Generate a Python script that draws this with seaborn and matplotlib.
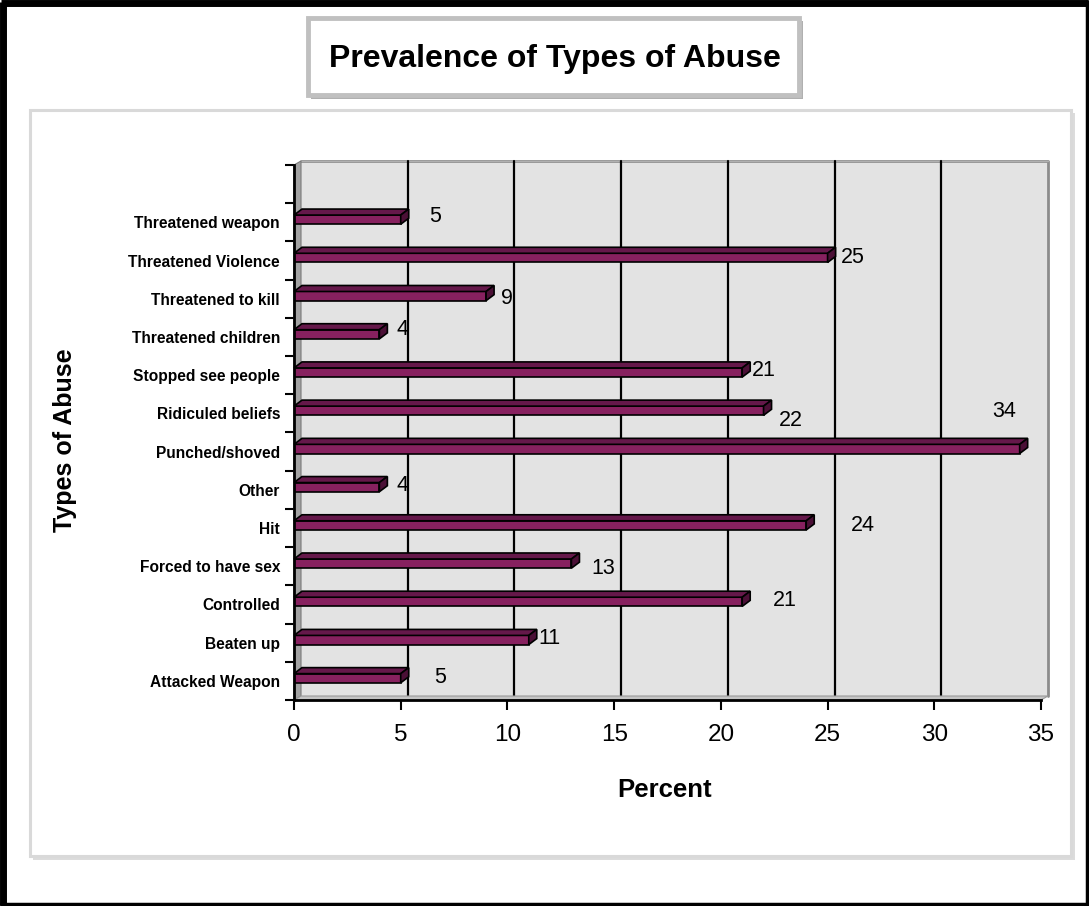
import numpy as np
import pandas as pd
import seaborn as sns
import matplotlib
matplotlib.use("Agg")
import matplotlib.pyplot as plt
from matplotlib.patches import Rectangle, Polygon
from matplotlib.lines import Line2D
from matplotlib.transforms import IdentityTransform

# ---- data (listed top to bottom as drawn) ----
abuse_types = [
    "Threatened weapon", "Threatened Violence", "Threatened to kill",
    "Threatened children", "Stopped see people", "Ridiculed beliefs",
    "Punched/shoved", "Other", "Hit", "Forced to have sex",
    "Controlled", "Beaten up", "Attacked Weapon",
]
percent = [5, 25, 9, 4, 21, 22, 34, 4, 24, 13, 21, 11, 5]
x_ticks = [0, 5, 10, 15, 20, 25, 30, 35]

# value label nudges in pixels (right, down) from each bar end
label_dx = [34, 25, 21, 23, 22, 27, -15, 23, 57, 32, 43, 21, 39]
label_dy = [-3, 0, 2, -5, -2, 10, -37, -2, 0, 5, -1, -2, -1]

# ---- style ----
W, H, DPI = 1089, 906, 100
FRONT = "#87215F"
TOP = "#65184A"
SIDE = "#4B1036"
WALL = "#E3E3E3"
DEPTH = (7, 4)          # 3-D depth offset in pixels (right, up)
BAR_DEPTH = (8, 6)

sns.set_style("white")
plt.rcParams["font.family"] = ["Liberation Sans", "DejaVu Sans"]
for key in ["text.color", "axes.labelcolor", "xtick.color", "ytick.color"]:
    plt.rcParams[key] = "black"

fig = plt.figure(figsize=(W / DPI, H / DPI), dpi=DPI)
fig.patch.set_facecolor("white")

def px_rect(x0, y0, x1, y1, **kw):
    """Rectangle given in top-left pixel coordinates."""
    r = Rectangle((x0, H - y1), x1 - x0, y1 - y0, transform=IdentityTransform(), **kw)
    fig.add_artist(r)
    return r

def px_line(xs, ys, **kw):
    ln = Line2D(xs, [H - y for y in ys], transform=IdentityTransform(), **kw)
    fig.add_artist(ln)

# outer black frame
px_line([3, 3], [2, 905], color="black", lw=5, solid_capstyle="butt", zorder=-1)
px_line([1, 1087], [3, 3], color="black", lw=5, solid_capstyle="butt", zorder=-1)
px_line([1087, 1087], [1, 905], color="black", lw=2.5, zorder=-1)
px_line([1, 1088], [904, 904], color="black", lw=2.5, zorder=-1)

# inner chart panel with soft shadow
px_rect(33, 113, 1075, 860, facecolor="#DCDCDC", edgecolor="none", zorder=-3)
px_rect(30, 110, 1071, 856, facecolor="white", edgecolor="#D9D9D9", lw=2.2, zorder=-2)

# title box
px_rect(311, 21, 803, 99, facecolor="#B0B0B0", edgecolor="none", zorder=-3)
px_rect(308, 18, 799, 95, facecolor="white", edgecolor="#C0C0C0", lw=3.5, zorder=-2)
fig.text(555 / W, 1 - 59 / H, "Prevalence of Types of Abuse", ha="center", va="center",
         fontsize=23, fontweight="bold", color="black")

# ---- main axes (front plane) ----
left, right, top, bottom = 294, 1041, 165, 700
ax = fig.add_axes([left / W, (H - bottom) / H, (right - left) / W, (bottom - top) / H])
ax.set_facecolor("none")
ax.set_zorder(1)

df = pd.DataFrame({"Type": abuse_types, "Percent": percent})
sns.barplot(data=df, x="Percent", y="Type", order=abuse_types, orient="h",
            color=FRONT, saturation=1, width=0.24, edgecolor="black",
            linewidth=1.2, ax=ax, zorder=3)

n = len(abuse_types)
ax.set_xlim(0, 35)
ax.set_ylim(n - 0.5, -1.5)
ax.set_xticks(x_ticks)
ax.set_xticklabels([str(t) for t in x_ticks], fontsize=17.5)
ax.set_yticks(range(n))
ax.set_yticklabels(abuse_types, fontsize=11.2, fontweight="bold")
ax.set_yticks(np.arange(-1.5, n, 1.0), minor=True)
ax.tick_params(axis="y", which="major", left=True, length=0, pad=10)
ax.tick_params(axis="y", which="minor", left=True, length=6.5, width=1.5,
               color="black", direction="out")
ax.tick_params(axis="x", which="major", bottom=True, length=7, width=1.5, color="black",
               direction="out", pad=10)
ax.set_xlabel("")
ax.set_ylabel("")
for side in ["top", "right"]:
    ax.spines[side].set_visible(False)
for side in ["left", "bottom"]:
    ax.spines[side].set_color("black")
    ax.spines[side].set_linewidth(2)
    ax.spines[side].set_zorder(4)
ax.grid(False)

# nudge bars slightly up toward the depth centre
bars = list(ax.patches)
for p in bars:
    p.set_y(p.get_y() - 0.07)

# ---- 3-D walls in display space ----
to_px = ax.transData.transform
(x0d, y0d) = to_px((0, n - 0.5))
(x1d, y1d) = to_px((35, -1.5))
dx, dy = DEPTH

def poly(pts, **kw):
    pg = Polygon(pts, closed=True, transform=IdentityTransform(), clip_on=False, **kw)
    ax.add_patch(pg)
    return pg

# back wall
poly([(x0d + dx, y0d + dy), (x1d + dx, y0d + dy), (x1d + dx, y1d + dy), (x0d + dx, y1d + dy)],
     facecolor=WALL, edgecolor="none", zorder=0.5)
# wall edges (top and right, grey)
ax.add_line(Line2D([x0d + dx, x1d + dx, x1d + dx], [y1d + dy, y1d + dy, y0d + dy],
                   color="#8C8C8C", lw=2, transform=IdentityTransform(), clip_on=False, zorder=0.6))
ax.add_line(Line2D([x0d + dx, x1d + dx], [y1d + dy, y1d + dy], color="#B0B0B0", lw=1,
                   transform=IdentityTransform(), clip_on=False, zorder=0.65))
# gridlines on the back wall
for t in x_ticks[1:-1]:
    gx = to_px((t, 0))[0] + dx
    ax.add_line(Line2D([gx, gx], [y0d + dy, y1d + dy], color="black", lw=1.6,
                       transform=IdentityTransform(), clip_on=False, zorder=0.8))
# left side wall
poly([(x0d, y0d), (x0d, y1d), (x0d + dx, y1d + dy), (x0d + dx, y0d + dy)],
     facecolor="#A3A3A3", edgecolor="#7A7A7A", lw=0.8, zorder=0.9)
# floor
poly([(x0d, y0d), (x1d, y0d), (x1d + dx, y0d + dy), (x0d + dx, y0d + dy)],
     facecolor="#C4C4C4", edgecolor="#9A9A9A", lw=0.8, zorder=0.9)

# bar top and end faces
bdx, bdy = BAR_DEPTH
for p in bars:
    bx, by, bw, bh = p.get_x(), p.get_y(), p.get_width(), p.get_height()
    (ax0, ay_top) = to_px((bx, by))          # y-axis inverted: by is visual top
    (ax1, ay_bot) = to_px((bx + bw, by + bh))
    poly([(ax0, ay_top), (ax1, ay_top), (ax1 + bdx, ay_top + bdy), (ax0 + bdx, ay_top + bdy)],
         facecolor=TOP, edgecolor="black", lw=1.2, zorder=3.1)
    poly([(ax1, ay_bot), (ax1, ay_top), (ax1 + bdx, ay_top + bdy), (ax1 + bdx, ay_bot + bdy)],
         facecolor=SIDE, edgecolor="black", lw=1.2, zorder=3.1)

# value labels
px2pt = 72 / DPI
for i, v in enumerate(percent):
    ax.annotate(str(v), xy=(v, i - 0.07), xytext=(label_dx[i] * px2pt, -label_dy[i] * px2pt),
                textcoords="offset points", ha="center", va="center", fontsize=15.5,
                color="black", zorder=5, annotation_clip=False)

# axis titles
fig.text(665 / W, 1 - 790 / H, "Percent", ha="center", va="center",
         fontsize=18.5, fontweight="bold")
fig.text(65 / W, 1 - 440 / H, "Types of Abuse", ha="center", va="center",
         rotation=90, fontsize=18, fontweight="bold")

fig.savefig("out.png", dpi=DPI)
